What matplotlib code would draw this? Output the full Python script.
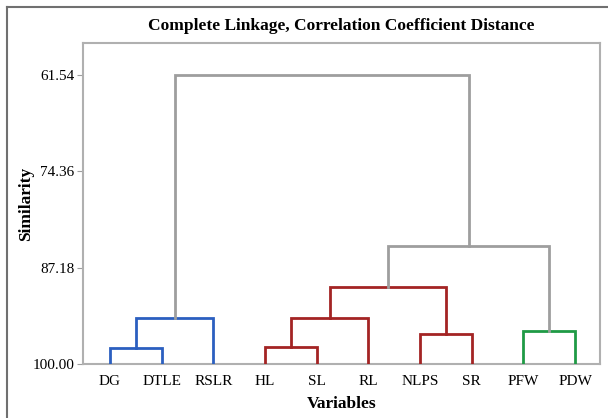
import matplotlib.pyplot as plt
from matplotlib.lines import Line2D

plt.rcParams['font.family'] = ['Liberation Serif', 'DejaVu Serif']

# Leaves in display order
labels = ["DG", "DTLE", "RSLR", "HL", "SL", "RL", "NLPS", "SR", "PFW", "PDW"]

# Merges: (left node, right node, similarity, colour); new node ids start at len(labels)
left_nodes = [0, 10, 3, 12, 6, 13, 8, 15, 11]
right_nodes = [1, 2, 4, 5, 7, 14, 9, 16, 17]
similarity = [97.83, 93.92, 97.74, 93.90, 95.97, 89.79, 95.61, 84.30, 61.54]
link_colors = ["#2b5fc0", "#2b5fc0", "#a32424", "#a32424", "#a32424",
               "#a32424", "#1f9a45", "#9e9e9e", "#9e9e9e"]

y_ticks = [61.54, 74.36, 87.18, 100.00]

fig = plt.figure(figsize=(6.08, 4.18), dpi=100)
ax = fig.add_axes([83 / 608, 1 - 364 / 418, 517 / 608, 321 / 418])

# node positions
xs = {i: float(i) for i in range(len(labels))}
ys = {i: 100.0 for i in range(len(labels))}

for k, (a, b, s, c) in enumerate(zip(left_nodes, right_nodes, similarity, link_colors)):
    node = len(labels) + k
    ax.plot([xs[a], xs[a], xs[b], xs[b]], [ys[a], s, s, ys[b]],
            color=c, lw=2, solid_joinstyle='miter', zorder=3)
    xs[node] = (xs[a] + xs[b]) / 2
    ys[node] = s

ax.set_xlim(-0.52, 9.48)
ax.set_ylim(100, 57.28)
ax.set_xticks(range(len(labels)))
ax.set_xticklabels(labels, fontsize=11)
ax.tick_params(axis='x', length=0, pad=8)
ax.set_yticks(y_ticks)
ax.set_yticklabels([f"{v:.2f}" for v in y_ticks], fontsize=11)
ax.tick_params(axis='y', length=4, color="#9e9e9e", pad=2)

for side in ax.spines:
    ax.spines[side].set_color("#b0b0b0")
    ax.spines[side].set_linewidth(1.5)

ax.set_title("Complete Linkage, Correlation Coefficient Distance",
             fontsize=12.5, fontweight='bold', pad=9)
ax.set_ylabel("Similarity", fontsize=12.5, fontweight='bold')
ax.yaxis.set_label_coords(-0.095, 0.5)
ax.set_xlabel("Variables", fontsize=12.5, fontweight='bold', labelpad=6)

# outer frame (left and top edges of the screenshot)
fig.add_artist(Line2D([7 / 608, 7 / 608], [0, 1 - 7 / 418], transform=fig.transFigure,
                      color="#707070", lw=1.5))
fig.add_artist(Line2D([7 / 608, 1], [1 - 7 / 418, 1 - 7 / 418], transform=fig.transFigure,
                      color="#707070", lw=1.5))

fig.savefig("out.png", dpi=100)
